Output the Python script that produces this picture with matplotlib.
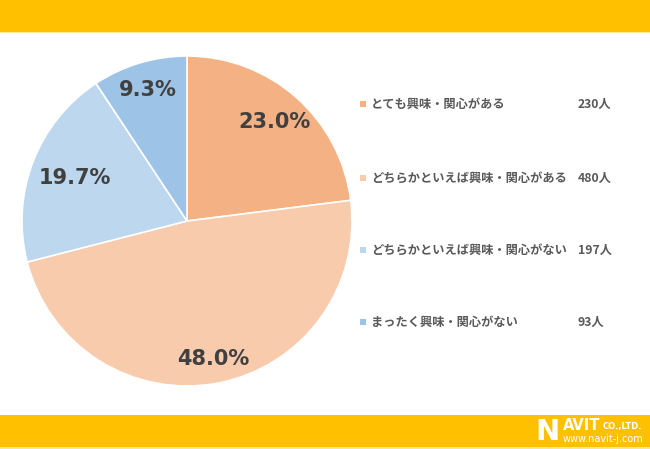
import matplotlib
matplotlib.use("Agg")
import matplotlib.pyplot as plt
from matplotlib.patches import Rectangle
import numpy as np

plt.rcParams['font.family'] = ['Noto Sans CJK JP', 'DejaVu Sans']

categories = ["とても興味・関心がある", "どちらかといえば興味・関心がある",
              "どちらかといえば興味・関心がない", "まったく興味・関心がない"]
counts = [230, 480, 197, 93]
percents = [23.0, 48.0, 19.7, 9.3]
colors = ["#F4B183", "#F8CBAD", "#BDD7EE", "#9DC3E6"]
label_dist = [0.80, 0.85, 0.73, 0.83]

W, H = 650, 449
fig = plt.figure(figsize=(W / 100, H / 100), dpi=100)
fig.patch.set_facecolor("white")

# background bars
bg = fig.add_axes([0, 0, 1, 1])
bg.set_xlim(0, W)
bg.set_ylim(H, 0)
bg.axis("off")
bg.add_patch(Rectangle((0, 0), W, 32, color="#FFC000", lw=0))
bg.add_patch(Rectangle((0, 32), W, 1.2, color="#FFE699", lw=0))
bg.add_patch(Rectangle((0, 415), W, 32, color="#FFC000", lw=0))
bg.add_patch(Rectangle((0, 447), W, 2, color="#FFE699", lw=0))

# logo
bg.text(535, 432, "N", color="white", fontsize=21, fontweight="bold",
        family="DejaVu Sans", va="center", ha="left")
bg.text(563, 426, "AVIT", color="white", fontsize=10.5, fontweight="bold",
        family="DejaVu Sans", va="center", ha="left")
bg.text(603, 427, "CO.,LTD.", color="white", fontsize=6, fontweight="bold",
        family="DejaVu Sans", va="center", ha="left")
bg.text(563, 439, "www.navit-j.com", color="white", fontsize=7,
        family="DejaVu Sans", va="center", ha="left")

# pie
cx, cy, r = 187, 221, 165
ax = fig.add_axes([(cx - r) / W, (H - cy - r) / H, 2 * r / W, 2 * r / H])
wedges, _ = ax.pie(counts, colors=colors, startangle=90, counterclock=False,
                   wedgeprops=dict(edgecolor="white", linewidth=1.2), radius=1.0)
ax.set_xlim(-1, 1)
ax.set_ylim(-1, 1)
ax.set_aspect("auto")
for w, p, d in zip(wedges, percents, label_dist):
    ang = np.deg2rad((w.theta1 + w.theta2) / 2)
    ax.text(d * np.cos(ang), d * np.sin(ang), f"{p:.1f}%", ha="center", va="center",
            fontsize=15, fontweight="bold", color="#404040", family="DejaVu Sans")

# legend
ys = [104, 178, 250, 322]
for cat, cnt, col, y in zip(categories, counts, colors, ys):
    bg.add_patch(Rectangle((360, y - 3), 6, 6, color=col, lw=0))
    bg.text(371, y, cat, fontsize=8.8, fontweight="bold", color="#595959",
            va="center", ha="left")
    bg.text(578, y, f"{cnt}人", fontsize=8.8, fontweight="bold", color="#595959",
            va="center", ha="left")

fig.savefig("out.png", dpi=100, facecolor="white")
